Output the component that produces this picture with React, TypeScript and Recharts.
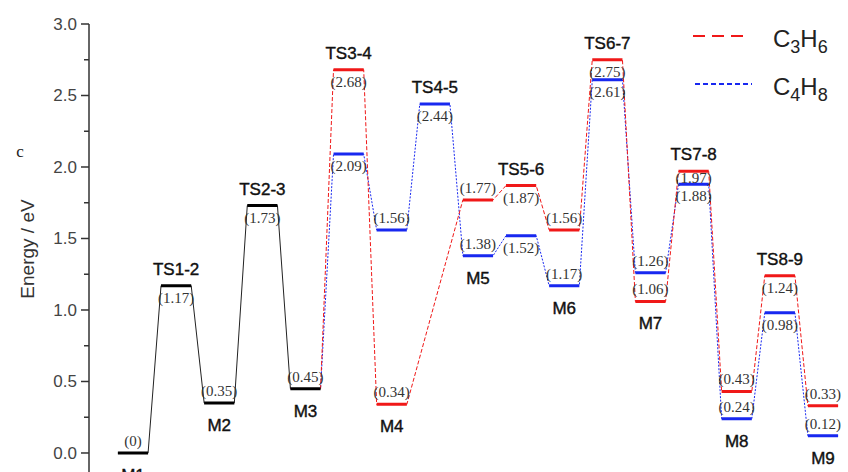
// Energy profile: two reaction pathways (C3H6 / C4H8) sharing the first steps

import React from 'react';
import { ComposedChart, Line, XAxis, YAxis } from 'recharts';

const stepNames = ['M1', 'TS1-2', 'M2', 'TS2-3', 'M3', 'TS3-4', 'M4', 'TS4-5', 'M5', 'TS5-6', 'M6', 'TS6-7', 'M7', 'TS7-8', 'M8', 'TS8-9', 'M9'];
// shared path M1 .. M3
const commonEnergy = [0, 1.17, 0.35, 1.73, 0.45];
// TS3-4 .. M9, null where the pathway has no such state
const c3h6Energy = [2.68, 0.34, null, 1.77, 1.87, 1.56, 2.75, 1.06, 1.97, 0.43, 1.24, 0.33];
const c4h8Energy = [2.09, 1.56, 2.44, 1.38, 1.52, 1.17, 2.61, 1.26, 1.88, 0.24, 0.98, 0.12];
const majorTicks = [0, 0.5, 1, 1.5, 2, 2.5, 3];
const minorTicks = [0.25, 0.75, 1.25, 1.75, 2.25, 2.75];

const HALF = 0.35;
const Y_DOMAIN = [-0.133, 3];
const TOP = 24;
const HEIGHT = 472;
const PX_PER_EV = (HEIGHT - TOP) / (Y_DOMAIN[1] - Y_DOMAIN[0]);
const SANS = '"Liberation Sans", Arial, sans-serif';
const SERIF = '"Liberation Serif", "Times New Roman", serif';
const RED = '#f01818';
const BLUE = '#1828f0';

type Level = { step: number; e: number };

const toLevels = (arr: (number | null)[], first: number): Level[] =>
  arr.map((e, k) => ({ step: first + k, e })).filter((l) => l.e !== null) as Level[];

const commonLevels = toLevels(commonEnergy, 0);
const c3h6Levels = toLevels(c3h6Energy, commonEnergy.length);
const c4h8Levels = toLevels(c4h8Energy, commonEnergy.length);
const lastCommon = commonLevels[commonLevels.length - 1];
const allLevels = [...commonLevels, ...c3h6Levels, ...c4h8Levels];

// path through both ends of every level
const connector = (levels: Level[]) =>
  levels.flatMap((l) => [
    { x: l.step - HALF, y: l.e },
    { x: l.step + HALF, y: l.e },
  ]);

// separate thick bars, with a labelled middle point
const bars = (levels: Level[]) =>
  levels.flatMap((l) => {
    const lower = allLevels.filter((o) => o.step === l.step && o.e < l.e).map((o) => o.e);
    const gap = lower.length ? l.e - Math.max(...lower) : Infinity;
    return [
      { x: l.step - HALF, y: l.e },
      { x: l.step, y: l.e, mid: true, ts: stepNames[l.step].startsWith('TS'), gap },
      { x: l.step + HALF, y: l.e },
      { x: l.step + 0.5, y: null },
    ];
  });

const nameMarks = stepNames.map((name, step) => {
  const es = allLevels.filter((l) => l.step === step).map((l) => l.e);
  const ts = name.startsWith('TS');
  return { x: step, y: ts ? Math.max(...es) : Math.min(...es), name, ts };
});

const valueDot = (props: any) => {
  const { cx, cy, payload, index } = props;
  if (!payload || !payload.mid || cy == null) return <g key={index} />;
  // squeeze a TS label between two close levels
  const gapPx = payload.gap * PX_PER_EV;
  const below = gapPx < 18 ? gapPx / 2 + 5 : 17;
  return (
    <text
      key={index}
      x={cx}
      y={payload.ts ? cy + below : cy - 7}
      textAnchor="middle"
      fontFamily={SERIF}
      fontSize={15}
      fill="#333"
    >
      ({payload.y})
    </text>
  );
};

const nameDot = (props: any) => {
  const { cx, cy, payload, index } = props;
  return (
    <text
      key={index}
      x={cx}
      y={payload.ts ? cy - 11 : cy + 28}
      textAnchor="middle"
      fontFamily={SANS}
      fontSize={17}
      fill="#111"
      stroke="#111"
      strokeWidth={0.4}
    >
      {payload.name}
    </text>
  );
};

const AxisTick = (props: any) => {
  const { x, y, payload } = props;
  const major = majorTicks.includes(payload.value);
  return (
    <g>
      <line x1={x - (major ? 8 : 5)} x2={x} y1={y} y2={y} stroke="#333" strokeWidth={1.5} />
      {major && (
        <text x={x - 12} y={y} dy={6} textAnchor="end" fontFamily={SANS} fontSize={17} fill="#444">
          {payload.value.toFixed(1)}
        </text>
      )}
    </g>
  );
};

const App: React.FC = () => {
  const allTicks = [...majorTicks, ...minorTicks].sort((a, b) => a - b);

  return (
    <div style={{ position: 'absolute', left: 0, top: 0, width: 848, height: HEIGHT, background: '#fff' }}>
      <ComposedChart width={848} height={HEIGHT} margin={{ top: TOP, right: 0, bottom: 0, left: 0 }}>
        <XAxis type="number" dataKey="x" domain={[-1.02, 16.58]} hide />
        <YAxis
          type="number"
          dataKey="y"
          domain={Y_DOMAIN}
          width={89}
          ticks={allTicks}
          interval={0}
          tickSize={0}
          tickMargin={0}
          tickLine={false}
          tick={<AxisTick />}
          axisLine={{ stroke: '#333', strokeWidth: 1.5 }}
        />

        {/* connectors */}
        <Line data={connector(commonLevels)} dataKey="y" stroke="#222" strokeWidth={1} dot={false} isAnimationActive={false} />
        <Line
          data={connector([lastCommon, ...c4h8Levels])}
          dataKey="y"
          stroke={BLUE}
          strokeWidth={1}
          strokeDasharray="2 1.5"
          dot={false}
          isAnimationActive={false}
        />
        <Line
          data={connector([lastCommon, ...c3h6Levels])}
          dataKey="y"
          stroke={RED}
          strokeWidth={1}
          strokeDasharray="4 2"
          dot={false}
          isAnimationActive={false}
        />

        {/* levels with values */}
        <Line data={bars(commonLevels)} dataKey="y" stroke="#000" strokeWidth={3} dot={valueDot} isAnimationActive={false} />
        <Line data={bars(c4h8Levels)} dataKey="y" stroke={BLUE} strokeWidth={3} dot={valueDot} isAnimationActive={false} />
        <Line data={bars(c3h6Levels)} dataKey="y" stroke={RED} strokeWidth={3} dot={valueDot} isAnimationActive={false} />

        {/* state names */}
        <Line data={nameMarks} dataKey="y" stroke="none" dot={nameDot} isAnimationActive={false} />
      </ComposedChart>

      <svg width={848} height={HEIGHT} style={{ position: 'absolute', left: 0, top: 0, pointerEvents: 'none' }}>
        <text x={20} y={157} textAnchor="middle" fontFamily={SERIF} fontSize={17} fill="#222">c</text>
        <text transform="translate(27,249) rotate(-90)" textAnchor="middle" dy={7} fontFamily={SANS} fontSize={19} fill="#333">
          Energy / eV
        </text>

        <line x1={693} x2={743} y1={36} y2={36} stroke={RED} strokeWidth={2} strokeDasharray="12 7" />
        <text x={773} y={47} fontFamily={SANS} fontSize={24} fill="#222">
          C<tspan dy={6} fontSize={18}>3</tspan><tspan dy={-6}>H</tspan><tspan dy={6} fontSize={18}>6</tspan>
        </text>
        <line x1={695} x2={752} y1={84} y2={84} stroke={BLUE} strokeWidth={2} strokeDasharray="5 3" />
        <text x={773} y={95} fontFamily={SANS} fontSize={24} fill="#222">
          C<tspan dy={6} fontSize={18}>4</tspan><tspan dy={-6}>H</tspan><tspan dy={6} fontSize={18}>8</tspan>
        </text>
      </svg>
    </div>
  );
};

export default App;
